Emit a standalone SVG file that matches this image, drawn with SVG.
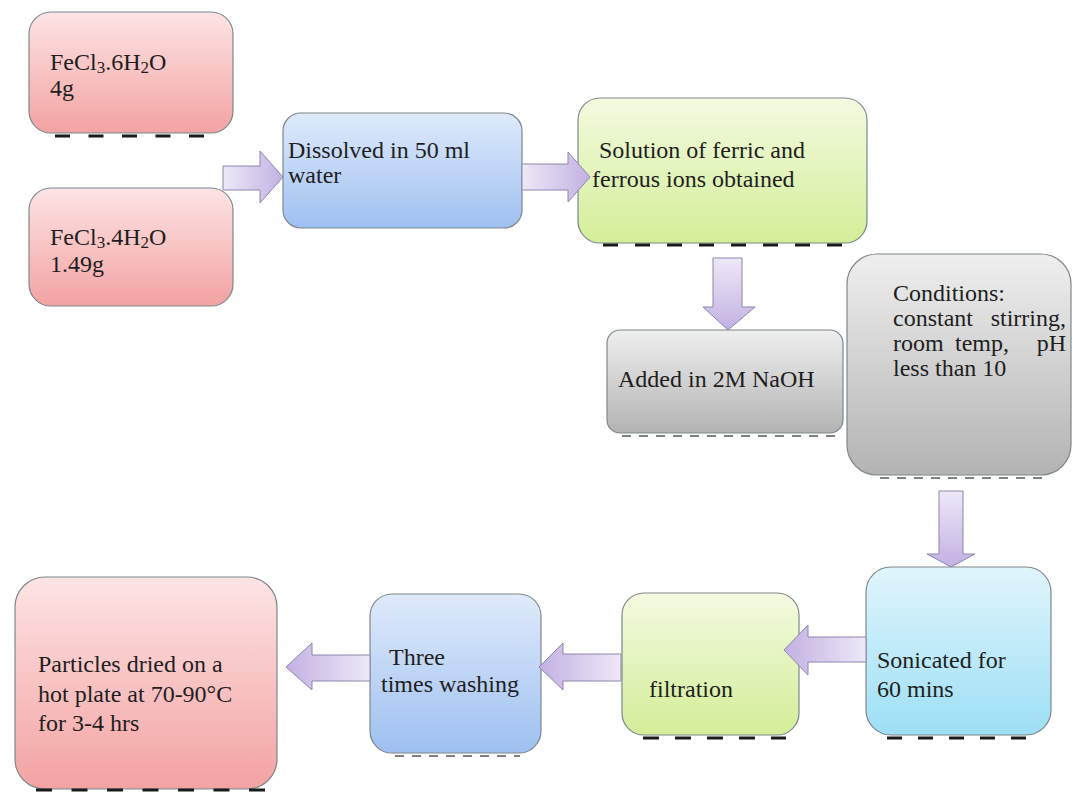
<svg xmlns="http://www.w3.org/2000/svg" width="1073" height="793" viewBox="0 0 1073 793">
<defs>
<linearGradient id="gPink" x1="0" y1="0" x2="0" y2="1"><stop offset="0" stop-color="#fde4e4"/><stop offset="1" stop-color="#f3a2a2"/></linearGradient>
<linearGradient id="gBlue" x1="0" y1="0" x2="0" y2="1"><stop offset="0" stop-color="#dfeafb"/><stop offset="1" stop-color="#9ec0f1"/></linearGradient>
<linearGradient id="gGreen" x1="0" y1="0" x2="0" y2="1"><stop offset="0" stop-color="#f3fae0"/><stop offset="1" stop-color="#d3ee98"/></linearGradient>
<linearGradient id="gGray" x1="0" y1="0" x2="0" y2="1"><stop offset="0" stop-color="#efefef"/><stop offset="1" stop-color="#b3b3b3"/></linearGradient>
<linearGradient id="gCyan" x1="0" y1="0" x2="0" y2="1"><stop offset="0" stop-color="#e0f5fc"/><stop offset="1" stop-color="#9ddff5"/></linearGradient>
<linearGradient id="aRight" x1="0" y1="0" x2="1" y2="0"><stop offset="0" stop-color="#eee8f7"/><stop offset="1" stop-color="#c2b1e2"/></linearGradient>
<linearGradient id="aLeft" x1="1" y1="0" x2="0" y2="0"><stop offset="0" stop-color="#eee8f7"/><stop offset="1" stop-color="#c2b1e2"/></linearGradient>
<linearGradient id="aDown" x1="0" y1="0" x2="0" y2="1"><stop offset="0" stop-color="#eee8f7"/><stop offset="1" stop-color="#c2b1e2"/></linearGradient>
</defs>
<style>
.box{stroke:#7d878c;stroke-width:1.2}
text{font-family:'Liberation Serif','Tinos','DejaVu Serif',serif;font-size:24px;fill:#1e1e1e}
.sub{font-size:17px}
.dash{stroke:#1a1a1a;stroke-width:3;fill:none}
.dot{stroke:#555;stroke-width:1.5;fill:none;stroke-dasharray:9 8}
.arr{stroke:#8e85ad;stroke-width:1}
</style>
<rect width="1073" height="793" fill="#ffffff"/>

<g id="node-fecl3-6h2o" font-family="Liberation Serif, serif">
<rect class="box" x="29" y="12" width="204" height="121" rx="22" fill="url(#gPink)"/>
<line class="dash" x1="55" y1="136" x2="205" y2="136" stroke-dasharray="15 18.5"/>
<text x="50" y="70">FeCl<tspan class="sub" dy="3">3</tspan><tspan dy="-3">.6H</tspan><tspan class="sub" dy="3">2</tspan><tspan dy="-3">O</tspan></text>
<text x="50" y="96">4g</text>
</g>

<g id="node-fecl3-4h2o" font-family="Liberation Serif, serif">
<rect class="box" x="29" y="188" width="204" height="118" rx="22" fill="url(#gPink)"/>
<text x="50" y="245">FeCl<tspan class="sub" dy="3">3</tspan><tspan dy="-3">.4H</tspan><tspan class="sub" dy="3">2</tspan><tspan dy="-3">O</tspan></text>
<text x="50" y="272">1.49g</text>
</g>

<g id="node-dissolved" font-family="Liberation Serif, serif">
<rect class="box" x="283" y="113" width="239" height="115" rx="18" fill="url(#gBlue)"/>
<text x="288" y="158">Dissolved in 50 ml</text>
<text x="288" y="183">water</text>
</g>

<g id="node-solution" font-family="Liberation Serif, serif">
<rect class="box" x="578" y="98" width="289" height="145" rx="22" fill="url(#gGreen)"/>
<line class="dash" x1="603" y1="245" x2="843" y2="245" stroke-dasharray="15 17"/>
<text x="599" y="158">Solution of ferric and</text>
<text x="592" y="187">ferrous ions obtained</text>
</g>

<g id="node-naoh" font-family="Liberation Serif, serif">
<rect class="box" x="607" y="330" width="236" height="103" rx="13" fill="url(#gGray)"/>
<line class="dot" x1="622" y1="436" x2="835" y2="436"/>
<text x="618" y="387">Added in 2M NaOH</text>
</g>

<g id="node-conditions" font-family="Liberation Serif, serif">
<rect class="box" x="847" y="254" width="224" height="221" rx="30" fill="url(#gGray)"/>
<line class="dot" x1="880" y1="478" x2="1050" y2="478"/>
<text x="893" y="301">Conditions:</text>
<text x="893" y="326">constant</text>
<text x="1066" y="326" text-anchor="end">stirring,</text>
<text x="893" y="351">room</text>
<text x="955" y="351">temp,</text>
<text x="1066" y="351" text-anchor="end">pH</text>
<text x="893" y="376">less than 10</text>
</g>

<g id="node-sonicated" font-family="Liberation Serif, serif">
<rect class="box" x="866" y="567" width="185" height="168" rx="25" fill="url(#gCyan)"/>
<line class="dash" x1="887" y1="738" x2="1028" y2="738" stroke-dasharray="15 16"/>
<text x="877" y="668">Sonicated for</text>
<text x="877" y="697">60 mins</text>
</g>

<g id="node-filtration" font-family="Liberation Serif, serif">
<rect class="box" x="622" y="593" width="177" height="142" rx="22" fill="url(#gGreen)"/>
<line class="dash" x1="643" y1="738" x2="786" y2="738" stroke-dasharray="16 16"/>
<text x="649" y="697">filtration</text>
</g>

<g id="node-washing" font-family="Liberation Serif, serif">
<rect class="box" x="370" y="594" width="171" height="159" rx="22" fill="url(#gBlue)"/>
<line class="dot" x1="395" y1="756" x2="520" y2="756"/>
<text x="389" y="665">Three</text>
<text x="381" y="692">times washing</text>
</g>

<g id="node-dried" font-family="Liberation Serif, serif">
<rect class="box" x="15" y="577" width="262" height="212" rx="30" fill="url(#gPink)"/>
<line class="dash" x1="36" y1="790" x2="266" y2="790" stroke-dasharray="16 19.5"/>
<text x="38" y="672">Particles dried on a</text>
<text x="38" y="702">hot plate at 70-90°C</text>
<text x="38" y="731">for 3-4 hrs</text>
</g>

<g id="connectors">
<polygon class="arr" fill="url(#aRight)" points="223,166 260,166 260,151 283,177 260,203 260,190 223,190"/>
<polygon class="arr" fill="url(#aRight)" points="522,164 568,164 568,152 590,177 568,202 568,190 522,190"/>
<polygon class="arr" fill="url(#aDown)" points="713,258 742,258 742,307 755,307 728,330 703,307 713,307"/>
<polygon class="arr" fill="url(#aDown)" points="939,491 963,491 963,554 975,554 951,567 927,554 939,554"/>
<polygon class="arr" fill="url(#aLeft)" points="866,637 808,637 808,625 784,650 808,675 808,662 866,662"/>
<polygon class="arr" fill="url(#aLeft)" points="621,654 563,654 563,643 539,667 563,690 563,681 621,681"/>
<polygon class="arr" fill="url(#aLeft)" points="370,655 312,655 312,643 286,667 312,690 312,681 370,681"/>
</g>
</svg>
